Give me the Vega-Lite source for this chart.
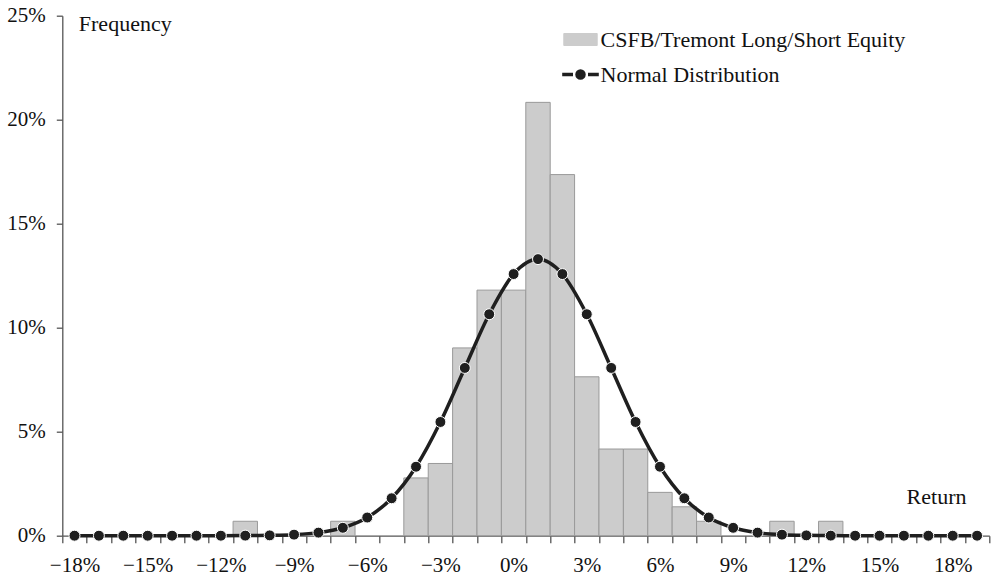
{
  "$schema": "https://vega.github.io/schema/vega-lite/v6.json",
  "width": 927,
  "height": 520,
  "autosize": {"type": "none"},
  "padding": {"left": 62.3, "top": 15.7, "right": 4.7, "bottom": 45.3},
  "background": "white",
  "config": {
    "view": {"stroke": null},
    "font": "Liberation Serif",
    "axis": {
      "grid": false,
      "domainColor": "#555555",
      "tickColor": "#555555",
      "domainWidth": 1.3,
      "tickWidth": 1.3,
      "labelFont": "Liberation Serif",
      "labelFontSize": 21,
      "labelColor": "#111111",
      "titleFont": "Liberation Serif",
      "titleFontSize": 22,
      "titleFontWeight": "normal",
      "titleColor": "#111111"
    }
  },
  "datasets": {
    "hist": [
      {"ret": -11, "pct": 0.694},
      {"ret": -7, "pct": 0.694},
      {"ret": -4, "pct": 2.778},
      {"ret": -3, "pct": 3.472},
      {"ret": -2, "pct": 9.028},
      {"ret": -1, "pct": 11.806},
      {"ret": 0, "pct": 11.806},
      {"ret": 1, "pct": 20.833},
      {"ret": 2, "pct": 17.361},
      {"ret": 3, "pct": 7.639},
      {"ret": 4, "pct": 4.167},
      {"ret": 5, "pct": 4.167},
      {"ret": 6, "pct": 2.083},
      {"ret": 7, "pct": 1.389},
      {"ret": 8, "pct": 0.694},
      {"ret": 11, "pct": 0.694},
      {"ret": 13, "pct": 0.694}
    ],
    "normal": [
      {"ret": -18, "pct": 0},
      {"ret": -17, "pct": 0},
      {"ret": -16, "pct": 0},
      {"ret": -15, "pct": 0},
      {"ret": -14, "pct": 0},
      {"ret": -13, "pct": 0},
      {"ret": -12, "pct": 0.0001},
      {"ret": -11, "pct": 0.0045},
      {"ret": -10, "pct": 0.016},
      {"ret": -9, "pct": 0.051},
      {"ret": -8, "pct": 0.148},
      {"ret": -7, "pct": 0.38},
      {"ret": -6, "pct": 0.874},
      {"ret": -5, "pct": 1.8},
      {"ret": -4, "pct": 3.316},
      {"ret": -3, "pct": 5.467},
      {"ret": -2, "pct": 8.066},
      {"ret": -1, "pct": 10.648},
      {"ret": 0, "pct": 12.579},
      {"ret": 1, "pct": 13.298},
      {"ret": 2, "pct": 12.579},
      {"ret": 3, "pct": 10.648},
      {"ret": 4, "pct": 8.066},
      {"ret": 5, "pct": 5.467},
      {"ret": 6, "pct": 3.316},
      {"ret": 7, "pct": 1.8},
      {"ret": 8, "pct": 0.874},
      {"ret": 9, "pct": 0.38},
      {"ret": 10, "pct": 0.148},
      {"ret": 11, "pct": 0.051},
      {"ret": 12, "pct": 0.016},
      {"ret": 13, "pct": 0.0045},
      {"ret": 14, "pct": 0.0001},
      {"ret": 15, "pct": 0},
      {"ret": 16, "pct": 0},
      {"ret": 17, "pct": 0},
      {"ret": 18, "pct": 0},
      {"ret": 19, "pct": 0}
    ]
  },
  "layer": [
    {
      "data": {"name": "hist"},
      "mark": {"type": "bar", "stroke": "#999999", "strokeWidth": 1},
      "encoding": {
        "x": {
          "field": "ret",
          "type": "ordinal",
          "scale": {
            "domain": [-18,-17,-16,-15,-14,-13,-12,-11,-10,-9,-8,-7,-6,-5,-4,-3,-2,-1,0,1,2,3,4,5,6,7,8,9,10,11,12,13,14,15,16,17,18,19],
            "paddingInner": 0,
            "paddingOuter": 0
          },
          "axis": {
            "title": "Return",
            "titleAngle": 0,
            "titleAlign": "right",
            "titleBaseline": "alphabetic",
            "titleAnchor": null,
            "titleX": 903.7,
            "titleY": -32.4,
            "tickBand": "extent",
            "tickSize": 7,
            "labelAngle": 0,
            "labelBaseline": "alphabetic",
            "labelPadding": 29,
            "labelFlush": false,
            "labelOverlap": false,
            "labelExpr": "datum.value % 3 === 0 && datum.value <= 18 ? replace(datum.value + '%', '-', '−') : ''"
          }
        },
        "y": {
          "field": "pct",
          "type": "quantitative",
          "scale": {"domain": [0, 25], "nice": false},
          "axis": {
            "values": [0, 5, 10, 15, 20, 25],
            "labelExpr": "datum.value + '%'",
            "tickSize": 6,
            "labelPadding": 11,
            "labelBaseline": "middle",
            "labelFlush": false,
            "title": "Frequency",
            "titleAngle": 0,
            "titleAlign": "left",
            "titleBaseline": "alphabetic",
            "titleAnchor": null,
            "titleX": 16,
            "titleY": 15
          }
        },
        "color": {
          "datum": "CSFB/Tremont Long/Short Equity",
          "type": "nominal",
          "scale": {
            "domain": ["CSFB/Tremont Long/Short Equity", "Normal Distribution"],
            "range": ["#cccccc", "#1f1f1f"]
          },
          "legend": {
            "title": null,
            "orient": "none",
            "legendX": 507.2,
            "legendY": 12.8,
            "direction": "vertical",
            "padding": 0,
            "labelFont": "Liberation Serif",
            "labelFontSize": 22,
            "labelColor": "#111111",
            "labelOffset": 9,
            "symbolSize": 400,
            "rowPadding": 13,
            "labelLimit": 400,
            "symbolType": "M-1.67,-0.6L1.67,-0.6L1.67,0.6L-1.67,0.6Z",
            "encode": {
              "symbols": {
                "update": {
                  "shape": {"signal": "datum.value === 'Normal Distribution' ? 'M-1.83,0L-0.75,0M0.75,0L1.83,0M0.35,0A0.35,0.35 0 1,1 -0.35,0A0.35,0.35 0 1,1 0.35,0' : 'M-1.67,-0.6L1.67,-0.6L1.67,0.6L-1.67,0.6Z'"},
                  "size": {"value": 400},
                  "fill": {"signal": "datum.value === 'Normal Distribution' ? '#1f1f1f' : '#cccccc'"},
                  "stroke": {"signal": "datum.value === 'Normal Distribution' ? '#1f1f1f' : '#999999'"},
                  "strokeWidth": {"signal": "datum.value === 'Normal Distribution' ? 3.5 : 1"},
                  "opacity": {"value": 1},
                  "fillOpacity": {"value": 1},
                  "strokeOpacity": {"value": 1}
                }
              }
            }
          }
        }
      }
    },
    {
      "data": {"name": "normal"},
      "mark": {
        "type": "line",
        "interpolate": "monotone",
        "strokeWidth": 3.5,
        "point": {"filled": true, "size": 120, "stroke": "white", "strokeWidth": 1, "opacity": 1}
      },
      "encoding": {
        "x": {"field": "ret", "type": "ordinal"},
        "y": {"field": "pct", "type": "quantitative"},
        "color": {
          "datum": "Normal Distribution",
          "type": "nominal",
          "legend": {
            "title": null,
            "orient": "none",
            "legendX": 507.2,
            "legendY": 12.8,
            "direction": "vertical",
            "padding": 0,
            "labelFont": "Liberation Serif",
            "labelFontSize": 22,
            "labelColor": "#111111",
            "labelOffset": 9,
            "symbolSize": 400,
            "rowPadding": 13,
            "labelLimit": 400,
            "symbolType": "M-1.67,-0.6L1.67,-0.6L1.67,0.6L-1.67,0.6Z",
            "encode": {
              "symbols": {
                "update": {
                  "shape": {"signal": "datum.value === 'Normal Distribution' ? 'M-1.83,0L-0.75,0M0.75,0L1.83,0M0.35,0A0.35,0.35 0 1,1 -0.35,0A0.35,0.35 0 1,1 0.35,0' : 'M-1.67,-0.6L1.67,-0.6L1.67,0.6L-1.67,0.6Z'"},
                  "size": {"value": 400},
                  "fill": {"signal": "datum.value === 'Normal Distribution' ? '#1f1f1f' : '#cccccc'"},
                  "stroke": {"signal": "datum.value === 'Normal Distribution' ? '#1f1f1f' : '#999999'"},
                  "strokeWidth": {"signal": "datum.value === 'Normal Distribution' ? 3.5 : 1"},
                  "opacity": {"value": 1},
                  "fillOpacity": {"value": 1},
                  "strokeOpacity": {"value": 1}
                }
              }
            }
          }
        }
      }
    }
  ]
}
